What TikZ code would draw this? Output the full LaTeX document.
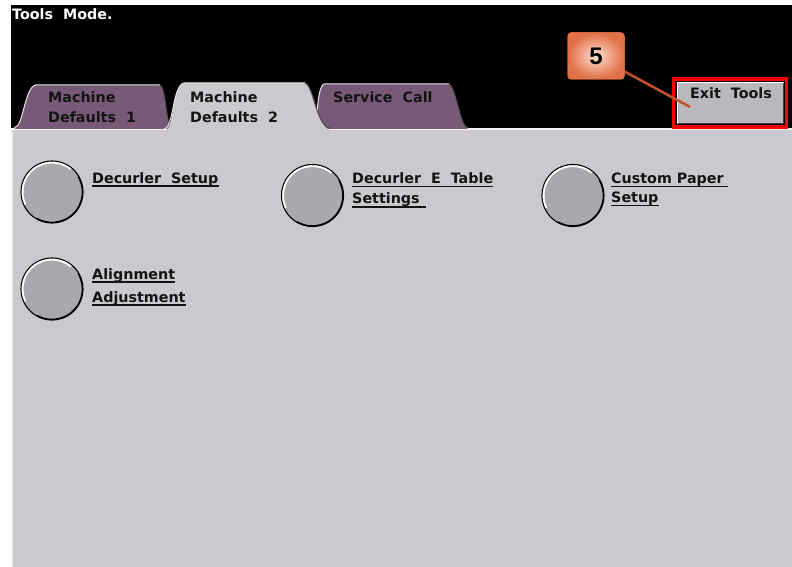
\documentclass[tikz,border=0pt]{standalone}
\usepackage{fontspec}
\setmainfont{DejaVu Sans}
\newfontfamily\calloutfont{Liberation Sans}
\definecolor{panel}{RGB}{204,201,206}
\definecolor{tabp}{RGB}{119,90,120}
\definecolor{btngray}{RGB}{170,168,172}
\definecolor{exitgray}{RGB}{186,184,189}
\definecolor{calin}{RGB}{252,222,208}
\definecolor{calout}{RGB}{226,112,72}
\definecolor{calline}{RGB}{196,80,42}
\definecolor{txt}{RGB}{20,20,20}
\begin{document}
\begin{tikzpicture}[x=1pt,y=-1pt,
  lbl/.style={font=\bfseries\fontsize{14.3}{16}\selectfont, text=txt, inner sep=0pt, anchor=base west},
  tabtxt/.style={font=\bfseries\fontsize{14.3}{16}\selectfont, text=txt, inner sep=0pt, anchor=base west},
  ul/.style={draw=txt, line width=1.3pt},
  btn/.style={circle, minimum size=62pt, inner sep=0pt, fill=btngray, draw=black, line width=1.1pt},
  tabline/.style={draw=white!80!gray, line width=1pt},
  tabdark/.style={draw=black!70, line width=1pt},
  callbox/.style={draw=calout, line width=1pt, rounded corners=3pt, inner color=calin, outer color=calout,
  minimum width=56pt, minimum height=46pt, font=\calloutfont\bfseries\fontsize{24}{24}\selectfont}
]
\useasboundingbox (0,0) rectangle (792,567);
\fill[white] (0,0) rectangle (792,567);
\fill[black] (11,5) rectangle (792,129);
\fill[panel] (11,129) rectangle (792,567);
\draw[white!85!gray, line width=1.2pt] (12,129) -- (12,567);
\draw[white!80!panel, line width=1.5pt] (11,129) -- (792,129);

% title
\node[lbl, text=white] (title) at (12,20) {Tools\ \ Mode.};

% tab 1
\fill[tabp] (14,129) .. controls (24,127) and (24,87) .. (36,85) -- (160,85)
  .. controls (166,87) and (166,127) .. (172,129) -- cycle;
\draw[tabline] (14,128) .. controls (24,127) and (24,87) .. (36,85) -- (160,85);
\draw[tabdark] (160,85) .. controls (166,87) and (166,127) .. (172,128);
% tab 3
\fill[tabp] (314,129) .. controls (318,127) and (316,88) .. (324,84) -- (449,84)
  .. controls (456,87) and (460,127) .. (468,129) -- cycle;
\draw[tabline] (314,128) .. controls (318,127) and (316,88) .. (324,84) -- (449,84);
\draw[tabdark] (449,84) .. controls (456,87) and (460,127) .. (468,128);
% tab 2 (active)
\fill[panel] (166,130) .. controls (174,128) and (172,86) .. (184,83) -- (305,83)
  .. controls (314,86) and (316,126) .. (330,130) -- cycle;
\draw[tabline] (164,129) .. controls (174,128) and (172,86) .. (184,83) -- (305,83);
\draw[tabdark] (305,83) .. controls (314,86) and (316,126) .. (330,128);

\node[tabtxt] (t1a) at (48,103) {Machine};
\node[tabtxt] (t1b) at (48,123) {Defaults\ \ 1};
\node[tabtxt] (t2a) at (190,103) {Machine};
\node[tabtxt] (t2b) at (190,123) {Defaults\ \ 2};
\node[tabtxt] (t3a) at (333,103) {Service\ \ Call};

% exit tools button
\node[draw=red, line width=3.5pt, minimum width=113pt, minimum height=48pt, inner sep=0pt] (exitframe) at (730,103) {};
\fill[exitgray] (677,82) rectangle (784,124);
\draw[white, line width=1pt] (677.5,123) -- (677.5,82.5) -- (784,82.5);
\draw[black!75, line width=1.2pt] (678,123.5) -- (783.5,123.5) -- (783.5,83);
\node[lbl] (exit) at (690,99) {Exit\ \ Tools};

% callout
\node[callbox] (c5) at (596,56) {5};
\coordinate (ep) at (690,107);
\draw[calline, line width=2.5pt] (c5) -- (ep);
\node[callbox] at (c5) {5};

% round buttons
\foreach \n/\x/\y in {b1/52/192, b2/312.5/195.5, b3/573/195.5, b4/52/289} {
  \node[btn] (\n) at (\x,\y) {};
  \draw[white, line width=1.8pt] ([shift={(\x pt,-\y pt)}]50:29.4pt) arc[start angle=50, end angle=205, radius=29.4pt];
  \draw[black, line width=1.2pt] ([shift={(\x pt,-\y pt)}]240:30.3pt) arc[start angle=240, end angle=390, radius=30.3pt];
}

% labels
\node[lbl] (l1) at (92,183) {Decurler\ \ Setup};
\draw[ul] ([yshift=-3pt]l1.base west) -- ([yshift=-3pt]l1.base east);
\node[lbl] (l2a) at (352,183) {Decurler\ \ E\ \ Table};
\draw[ul] ([yshift=-3.5pt]l2a.base west) -- ([yshift=-3.5pt]l2a.base east);
\node[lbl] (l2b) at (352,203) {Settings};
\draw[ul] ([yshift=-4pt]l2b.base west) -- ([yshift=-4pt,xshift=6pt]l2b.base east);
\node[lbl] (l3a) at (611,183) {Custom Paper};
\draw[ul] ([yshift=-3.5pt]l3a.base west) -- ([yshift=-3.5pt,xshift=4pt]l3a.base east);
\node[lbl] (l3b) at (611,202) {Setup};
\draw[ul] ([yshift=-3.5pt]l3b.base west) -- ([yshift=-3.5pt]l3b.base east);
\node[lbl] (l4a) at (92,279) {Alignment};
\draw[ul] ([yshift=-3pt]l4a.base west) -- ([yshift=-3pt]l4a.base east);
\node[lbl] (l4b) at (92,302) {Adjustment};
\draw[ul] ([yshift=-3pt]l4b.base west) -- ([yshift=-3pt]l4b.base east);
\end{tikzpicture}
\end{document}
